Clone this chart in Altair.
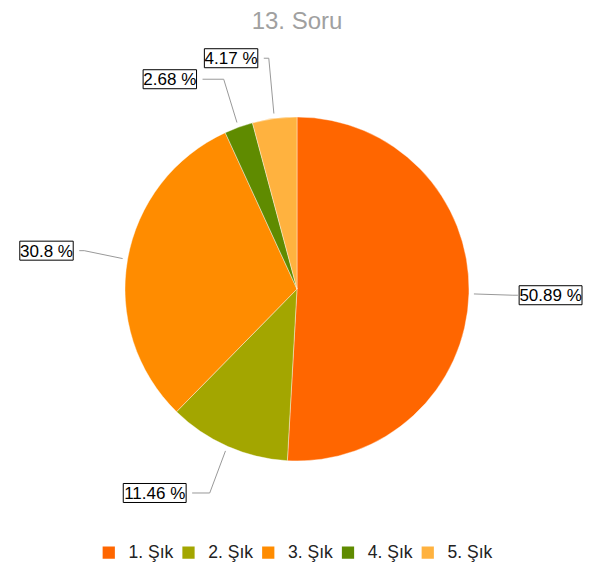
import altair as alt
import pandas as pd
import numpy as np

# ---- data ----
categories = ["1. Şık", "2. Şık", "3. Şık", "4. Şık", "5. Şık"]
values = [50.89, 11.46, 30.8, 2.68, 4.17]
value_labels = ["50.89 %", "11.46 %", "30.8 %", "2.68 %", "4.17 %"]
colors = ["#FF6600", "#A3A600", "#FF8C00", "#5F8B00", "#FFB23F"]
title_text = "13. Soru"

# ---- layout ----
W, H = 575, 554
CX, CY = 289, 281          # pie centre inside plot area
R = 172                    # pie radius
R_START = R + 5            # leader start radius
ELB_A, ELB_B = 216, 223    # leader elbow ellipse (horizontal, vertical radius)
END_A, END_B = 217, 233    # ellipse on which the horizontal leader part ends
MIN_HSEG = 5               # minimum horizontal part of leader
GAP = 6                    # gap leader -> box
FS = 17                    # label font size
MIN_DY = 21                # min vertical distance between labels on same side

CHARW = {".": 0.278, " ": 0.278, "%": 0.889}


def text_width(s):
    return sum(CHARW.get(c, 0.556) for c in s) * FS


total = sum(values)
cum = np.cumsum(values)
mid = [(c - v / 2) / total * 2 * np.pi for c, v in zip(cum, values)]

lab = pd.DataFrame({"cat": categories, "txt": value_labels, "a": mid})
lab["sx"] = R_START * np.sin(lab["a"])
lab["sy"] = R_START * np.cos(lab["a"])
lab["ex"] = ELB_A * np.sin(lab["a"])
lab["ey"] = ELB_B * np.cos(lab["a"])
lab["side"] = np.where(lab["ex"] >= 0, 1, -1)

# simple collision avoidance per side: push upper labels up
for side in (1, -1):
    idx = lab[lab["side"] == side].sort_values("ey").index.tolist()
    for i in range(1, len(idx)):
        prev, cur = idx[i - 1], idx[i]
        if lab.at[cur, "ey"] - lab.at[prev, "ey"] < MIN_DY:
            lab.at[cur, "ey"] = lab.at[prev, "ey"] + MIN_DY

end_abs = END_A * np.sqrt(np.clip(1 - (lab["ey"] / END_B) ** 2, 0, 1))
lab["hx"] = lab["side"] * np.maximum(end_abs, lab["ex"].abs() + MIN_HSEG)
lab["tw"] = [text_width(t) + 0.5 for t in lab["txt"]]
lab["bx1"] = lab["hx"] + lab["side"] * GAP
# keep boxes inside the chart area
right_lim = (W - CX) - 1
left_lim = -CX + 1
lab["bx1"] = np.where(
    lab["side"] > 0,
    np.minimum(lab["bx1"], right_lim - lab["tw"]),
    np.maximum(lab["bx1"], left_lim + lab["tw"]),
)
lab["bx2"] = lab["bx1"] + lab["side"] * lab["tw"]
lab["bxc"] = (lab["bx1"] + lab["bx2"]) / 2
lab["by1"] = lab["ey"] - 9.5
lab["by2"] = lab["ey"] + 9.5

line_rows = []
for _, r in lab.iterrows():
    line_rows.append({"cat": r["cat"], "o": 0, "x": r["sx"], "y": r["sy"]})
    line_rows.append({"cat": r["cat"], "o": 1, "x": r["ex"], "y": r["ey"]})
    line_rows.append({"cat": r["cat"], "o": 2, "x": r["hx"], "y": r["ey"]})
lines = pd.DataFrame(line_rows)

pie_df = pd.DataFrame({"cat": categories, "val": values, "idx": range(len(values))})
title_df = pd.DataFrame({"t": [title_text], "x": [0], "y": [CY]})

xs = alt.Scale(domain=[-CX, W - CX], nice=False, zero=False)
ys = alt.Scale(domain=[CY - H, CY], nice=False, zero=False)

pie = alt.Chart(pie_df).mark_arc(outerRadius=R, stroke="#ffffff", strokeWidth=0.4).encode(
    theta=alt.Theta("val:Q", stack=True),
    order=alt.Order("idx:Q"),
    x=alt.datum(0, type="quantitative", scale=xs, axis=None),
    y=alt.datum(0, type="quantitative", scale=ys, axis=None),
    color=alt.Color(
        "cat:N",
        scale=alt.Scale(domain=categories, range=colors),
        sort=categories,
        legend=alt.Legend(
            orient="none", legendX=92, legendY=535.5, direction="horizontal", title=None,
            symbolType="square", symbolSize=150, symbolStrokeWidth=0,
            symbolOpacity=1, labelFontSize=17.5, labelFont="Liberation Sans",
            labelColor="#222222", columnPadding=5.75, labelOffset=11, padding=0,
        ),
    ),
)

leaders = alt.Chart(lines).mark_line(color="#999999", strokeWidth=1).encode(
    x=alt.X("x:Q", scale=xs, axis=None),
    y=alt.Y("y:Q", scale=ys, axis=None),
    detail="cat:N",
    order="o:Q",
)

boxes = alt.Chart(lab).mark_rect(fill="white", stroke="black", strokeWidth=1).encode(
    x=alt.X("bx1:Q", scale=xs, axis=None),
    x2="bx2:Q",
    y=alt.Y("by1:Q", scale=ys, axis=None),
    y2="by2:Q",
)

texts = alt.Chart(lab).mark_text(
    fontSize=FS, font="Liberation Sans", color="black", align="center", baseline="middle", dy=1
).encode(
    x=alt.X("bxc:Q", scale=xs, axis=None),
    y=alt.Y("ey:Q", scale=ys, axis=None),
    text="txt:N",
)

title = alt.Chart(title_df).mark_text(
    fontSize=24, font="Liberation Sans", color="#a0a0a0", align="center", baseline="top", dy=2
).encode(
    x=alt.X("x:Q", scale=xs, axis=None),
    y=alt.Y("y:Q", scale=ys, axis=None),
    text="t:N",
)

chart = alt.layer(pie, leaders, boxes, texts, title).properties(
    width=W, height=H, padding=0,
).configure_view(strokeWidth=0)

chart.save("out.html", embed_options={"renderer": "svg", "actions": False})
